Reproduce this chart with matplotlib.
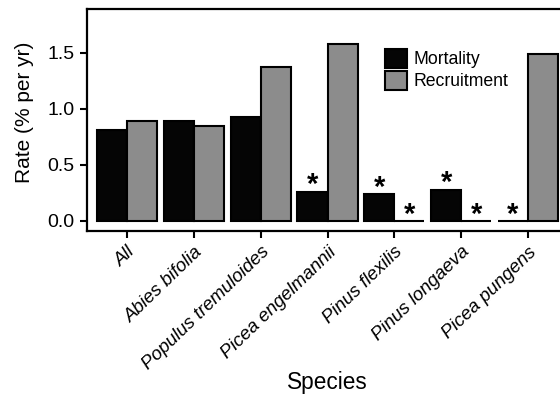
import matplotlib.pyplot as plt
import numpy as np

plt.rcParams["font.family"] = ["Liberation Sans", "DejaVu Sans"]

# ── data ──────────────────────────────────────────────
species = ["All", "Abies bifolia", "Populus tremuloides", "Picea engelmannii",
           "Pinus flexilis", "Pinus longaeva", "Picea pungens"]
mortality = [0.81, 0.89, 0.93, 0.26, 0.24, 0.28, 0.0]
recruitment = [0.89, 0.85, 1.375, 1.58, 0.0, 0.0, 1.49]
mort_star = [False, False, False, True, True, True, True]
recr_star = [False, False, False, False, True, True, False]

# ── figure ────────────────────────────────────────────
fig = plt.figure(figsize=(5.6, 3.95), dpi=100)
ax = fig.add_axes([87 / 560, 1 - 231 / 395, 481 / 560, 222 / 395])

x = np.arange(len(species))
w = 0.45
ax.bar(x - w / 2, mortality, w, color="#050505", edgecolor="black",
       linewidth=1.5, label="Mortality", zorder=2)
ax.bar(x + w / 2, recruitment, w, color="#8c8c8c", edgecolor="black",
       linewidth=1.5, label="Recruitment", zorder=2)

# significance stars above bars
for i in range(len(species)):
    if mort_star[i]:
        ax.annotate("*", (x[i] - w / 2, mortality[i]), xytext=(0, -5.5),
                    textcoords="offset points", ha="center", va="bottom",
                    fontsize=21, fontweight="bold")
    if recr_star[i]:
        ax.annotate("*", (x[i] + w / 2, recruitment[i]), xytext=(0, -5.5),
                    textcoords="offset points", ha="center", va="bottom",
                    fontsize=21, fontweight="bold")

ax.set_xlim(-0.6, 6.6)
ax.set_ylim(-0.09, 1.89)
ax.set_yticks([0.0, 0.5, 1.0, 1.5])
ax.set_yticklabels(["0.0", "0.5", "1.0", "1.5"], fontsize=14)
ax.set_xticks(x)
ax.set_xticklabels(species, rotation=44, ha="right", rotation_mode="anchor",
                   fontsize=13.5, style="italic")
ax.tick_params(axis="both", direction="out", length=5, width=1.5, color="black")
ax.tick_params(axis="y", pad=4)
ax.tick_params(axis="x", pad=4)

for s in ax.spines.values():
    s.set_linewidth(1.6)
    s.set_color("black")

ax.set_ylabel("Rate (% per yr)", fontsize=15, va="center")
ax.yaxis.set_label_coords((24 - 87) / 481, (231 - 112.5) / 222)
ax.set_xlabel("Species", fontsize=16.3, va="center")
ax.xaxis.set_label_coords(0.5, (231 - 383) / 222)

ax.legend(loc="upper left", bbox_to_anchor=(0.62, 0.82), frameon=False,
          fontsize=12.7, handlelength=1.25, handleheight=1.25, handletextpad=0.35,
          labelspacing=0.17, borderaxespad=0, borderpad=0)

fig.savefig("out.png", dpi=100)
